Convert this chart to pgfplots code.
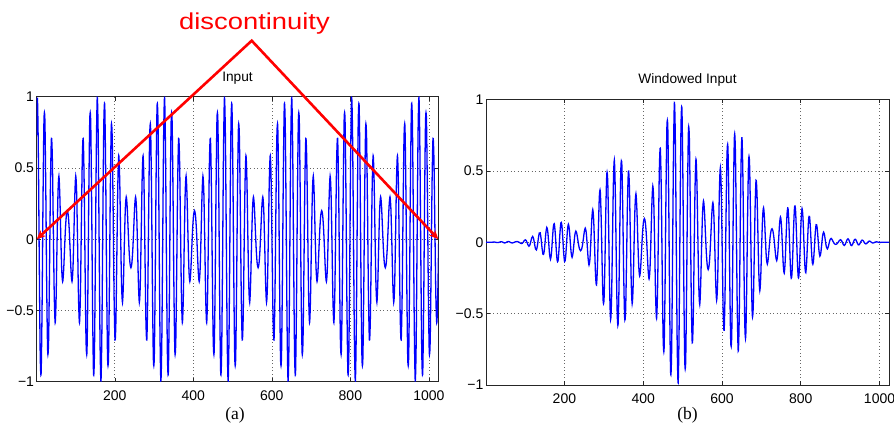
\documentclass[border=0pt]{standalone}
\usepackage{fontspec}
\setmainfont{Liberation Sans}
\newfontfamily\capfont{Liberation Serif}
\usepackage{graphicx}
\usepackage{pgfplots}
\pgfplotsset{compat=1.18}
\usetikzlibrary{arrows.meta}

\pgfplotsset{matlab/.style={
  scale only axis, anchor=south west,
  xmin=1, xmax=1024, ymin=-1, ymax=1,
  xtick={200,400,600,800,1000}, xticklabels={200,400,600,800,1000},
  ytick={-1,-0.5,0,0.5,1}, yticklabels={−1,−0.5,0,0.5,1},
  tick align=inside, major tick length=4pt,
  grid=major,
  major grid style={black!60, line width=0.7pt, dash pattern=on 0.7pt off 2.8pt},
  axis line style={black!85, line width=0.9pt},
  tick style={black!85, line width=0.6pt},
  tick label style={font=\fontsize{14}{16}\selectfont, inner sep=0pt},
  xticklabel style={yshift=-9pt},
  yticklabel style={xshift=-2.5pt},
  title style={font=\fontsize{13.7}{16}\selectfont, at={(0.5,1)}, anchor=base, yshift=9.5pt, inner sep=0pt},
}}

\begin{document}
\begin{tikzpicture}[x=1pt,y=1pt]
\useasboundingbox (0,0) rectangle (894,425);

% (a) input: two tones, 0.6 and 0.4, beating every 162 samples
\begin{axis}[matlab, at={(36.7pt,43.3pt)}, width=401.6pt, height=285pt, title={Input}]
\addplot[blue, line width=1.3pt, smooth] coordinates {
(0.38,0.732) (2.76,0.993) (5.15,0.619) (7.53,-0.145) (9.91,-0.804) (12.29,-0.940) (14.68,-0.480) (17.06,0.270) (19.44,0.824) (21.82,0.841) (24.21,0.333) (26.59,-0.358) (28.97,-0.790) (31.35,-0.710) (33.74,-0.198) (36.12,0.398) (38.50,0.707) (40.88,0.563) (43.26,0.094) (45.65,-0.385) (48.03,-0.586) (50.41,-0.422) (52.79,-0.035) (55.18,0.319) (57.56,0.443) (59.94,0.304) (62.32,0.028) (64.71,-0.211) (67.09,-0.297) (69.47,-0.227) (71.85,-0.075) (74.24,0.074) (76.62,0.169)
(79.00,0.200) (81.38,0.169) (83.76,0.074) (86.15,-0.075) (88.53,-0.227) (90.91,-0.297) (93.29,-0.211) (95.68,0.028) (98.06,0.304) (100.44,0.443) (102.82,0.319) (105.21,-0.035) (107.59,-0.422) (109.97,-0.586) (112.35,-0.385) (114.74,0.094) (117.12,0.563) (119.50,0.707) (121.88,0.398) (124.26,-0.198) (126.65,-0.710) (129.03,-0.790) (131.41,-0.358) (133.79,0.333) (136.18,0.841) (138.56,0.824) (140.94,0.270) (143.32,-0.480) (145.71,-0.940) (148.09,-0.804) (150.47,-0.145) (152.85,0.619) (155.24,0.993) (157.62,0.732) (160.00,0.000) (162.38,-0.732) (164.76,-0.993) (167.15,-0.619) (169.53,0.145) (171.91,0.804) (174.29,0.940) (176.68,0.480) (179.06,-0.270) (181.44,-0.824) (183.82,-0.841) (186.21,-0.333) (188.59,0.358) (190.97,0.790) (193.35,0.710) (195.74,0.198) (198.12,-0.398) (200.50,-0.707) (202.88,-0.563) (205.26,-0.094) (207.65,0.385) (210.03,0.586) (212.41,0.422) (214.79,0.035) (217.18,-0.319) (219.56,-0.443) (221.94,-0.304) (224.32,-0.028) (226.71,0.211) (229.09,0.297) (231.47,0.227) (233.85,0.075) (236.24,-0.074) (238.62,-0.169)
(241.00,-0.200) (243.38,-0.169) (245.76,-0.074) (248.15,0.075) (250.53,0.227) (252.91,0.297) (255.29,0.211) (257.68,-0.028) (260.06,-0.304) (262.44,-0.443) (264.82,-0.319) (267.21,0.035) (269.59,0.422) (271.97,0.586) (274.35,0.385) (276.74,-0.094) (279.12,-0.563) (281.50,-0.707) (283.88,-0.398) (286.26,0.198) (288.65,0.710) (291.03,0.790) (293.41,0.358) (295.79,-0.333) (298.18,-0.841) (300.56,-0.824) (302.94,-0.270) (305.32,0.480) (307.71,0.940) (310.09,0.804) (312.47,0.145) (314.85,-0.619) (317.24,-0.993) (319.62,-0.732) (322.00,0.000) (324.38,0.732) (326.76,0.993) (329.15,0.619) (331.53,-0.145) (333.91,-0.804) (336.29,-0.940) (338.68,-0.480) (341.06,0.270) (343.44,0.824) (345.82,0.841) (348.21,0.333) (350.59,-0.358) (352.97,-0.790) (355.35,-0.710) (357.74,-0.198) (360.12,0.398) (362.50,0.707) (364.88,0.563) (367.26,0.094) (369.65,-0.385) (372.03,-0.586) (374.41,-0.422) (376.79,-0.035) (379.18,0.319) (381.56,0.443) (383.94,0.304) (386.32,0.028) (388.71,-0.211) (391.09,-0.297) (393.47,-0.227) (395.85,-0.075) (398.24,0.074) (400.62,0.169)
(403.00,0.200) (405.38,0.169) (407.76,0.074) (410.15,-0.075) (412.53,-0.227) (414.91,-0.297) (417.29,-0.211) (419.68,0.028) (422.06,0.304) (424.44,0.443) (426.82,0.319) (429.21,-0.035) (431.59,-0.422) (433.97,-0.586) (436.35,-0.385) (438.74,0.094) (441.12,0.563) (443.50,0.707) (445.88,0.398) (448.26,-0.198) (450.65,-0.710) (453.03,-0.790) (455.41,-0.358) (457.79,0.333) (460.18,0.841) (462.56,0.824) (464.94,0.270) (467.32,-0.480) (469.71,-0.940) (472.09,-0.804) (474.47,-0.145) (476.85,0.619) (479.24,0.993) (481.62,0.732) (484.00,0.000) (486.38,-0.732) (488.76,-0.993) (491.15,-0.619) (493.53,0.145) (495.91,0.804) (498.29,0.940) (500.68,0.480) (503.06,-0.270) (505.44,-0.824) (507.82,-0.841) (510.21,-0.333) (512.59,0.358) (514.97,0.790) (517.35,0.710) (519.74,0.198) (522.12,-0.398) (524.50,-0.707) (526.88,-0.563) (529.26,-0.094) (531.65,0.385) (534.03,0.586) (536.41,0.422) (538.79,0.035) (541.18,-0.319) (543.56,-0.443) (545.94,-0.304) (548.32,-0.028) (550.71,0.211) (553.09,0.297) (555.47,0.227) (557.85,0.075) (560.24,-0.074) (562.62,-0.169)
(565.00,-0.200) (567.38,-0.169) (569.76,-0.074) (572.15,0.075) (574.53,0.227) (576.91,0.297) (579.29,0.211) (581.68,-0.028) (584.06,-0.304) (586.44,-0.443) (588.82,-0.319) (591.21,0.035) (593.59,0.422) (595.97,0.586) (598.35,0.385) (600.74,-0.094) (603.12,-0.563) (605.50,-0.707) (607.88,-0.398) (610.26,0.198) (612.65,0.710) (615.03,0.790) (617.41,0.358) (619.79,-0.333) (622.18,-0.841) (624.56,-0.824) (626.94,-0.270) (629.32,0.480) (631.71,0.940) (634.09,0.804) (636.47,0.145) (638.85,-0.619) (641.24,-0.993) (643.62,-0.732) (646.00,0.000) (648.38,0.732) (650.76,0.993) (653.15,0.619) (655.53,-0.145) (657.91,-0.804) (660.29,-0.940) (662.68,-0.480) (665.06,0.270) (667.44,0.824) (669.82,0.841) (672.21,0.333) (674.59,-0.358) (676.97,-0.790) (679.35,-0.710) (681.74,-0.198) (684.12,0.398) (686.50,0.707) (688.88,0.563) (691.26,0.094) (693.65,-0.385) (696.03,-0.586) (698.41,-0.422) (700.79,-0.035) (703.18,0.319) (705.56,0.443) (707.94,0.304) (710.32,0.028) (712.71,-0.211) (715.09,-0.297) (717.47,-0.227) (719.85,-0.075) (722.24,0.074) (724.62,0.169)
(727.00,0.200) (729.38,0.169) (731.76,0.074) (734.15,-0.075) (736.53,-0.227) (738.91,-0.297) (741.29,-0.211) (743.68,0.028) (746.06,0.304) (748.44,0.443) (750.82,0.319) (753.21,-0.035) (755.59,-0.422) (757.97,-0.586) (760.35,-0.385) (762.74,0.094) (765.12,0.563) (767.50,0.707) (769.88,0.398) (772.26,-0.198) (774.65,-0.710) (777.03,-0.790) (779.41,-0.358) (781.79,0.333) (784.18,0.841) (786.56,0.824) (788.94,0.270) (791.32,-0.480) (793.71,-0.940) (796.09,-0.804) (798.47,-0.145) (800.85,0.619) (803.24,0.993) (805.62,0.732) (808.00,0.000) (810.38,-0.732) (812.76,-0.993) (815.15,-0.619) (817.53,0.145) (819.91,0.804) (822.29,0.940) (824.68,0.480) (827.06,-0.270) (829.44,-0.824) (831.82,-0.841) (834.21,-0.333) (836.59,0.358) (838.97,0.790) (841.35,0.710) (843.74,0.198) (846.12,-0.398) (848.50,-0.707) (850.88,-0.563) (853.26,-0.094) (855.65,0.385) (858.03,0.586) (860.41,0.422) (862.79,0.035) (865.18,-0.319) (867.56,-0.443) (869.94,-0.304) (872.32,-0.028) (874.71,0.211) (877.09,0.297) (879.47,0.227) (881.85,0.075) (884.24,-0.074) (886.62,-0.169)
(889.00,-0.200) (891.38,-0.169) (893.76,-0.074) (896.15,0.075) (898.53,0.227) (900.91,0.297) (903.29,0.211) (905.68,-0.028) (908.06,-0.304) (910.44,-0.443) (912.82,-0.319) (915.21,0.035) (917.59,0.422) (919.97,0.586) (922.35,0.385) (924.74,-0.094) (927.12,-0.563) (929.50,-0.707) (931.88,-0.398) (934.26,0.198) (936.65,0.710) (939.03,0.790) (941.41,0.358) (943.79,-0.333) (946.18,-0.841) (948.56,-0.824) (950.94,-0.270) (953.32,0.480) (955.71,0.940) (958.09,0.804) (960.47,0.145) (962.85,-0.619) (965.24,-0.993) (967.62,-0.732) (970.00,0.000) (972.38,0.732) (974.76,0.993) (977.15,0.619) (979.53,-0.145) (981.91,-0.804) (984.29,-0.940) (986.68,-0.480) (989.06,0.270) (991.44,0.824) (993.82,0.841) (996.21,0.333) (998.59,-0.358) (1000.97,-0.790) (1003.35,-0.710) (1005.74,-0.198) (1008.12,0.398) (1010.50,0.707) (1012.88,0.563) (1015.26,0.094) (1017.65,-0.385) (1020.03,-0.586) (1022.41,-0.422) (1024.79,-0.035)
};
\coordinate (L) at (axis cs:1,0);
\coordinate (R) at (axis cs:1024,0);
\end{axis}

% (b) the same input times a Blackman window
\begin{axis}[matlab, at={(486pt,40pt)}, width=403pt, height=285.5pt, title={Windowed Input}]
\addplot[blue, line width=1.3pt, smooth] coordinates {
(0.38,0) (2.76,0) (5.15,0) (7.53,0) (9.91,-0.0003) (12.29,-0.0005) (14.68,-0.0004) (17.06,0.0003) (19.44,0.0011) (21.82,0.0013) (24.21,0.0007) (26.59,-0.0009) (28.97,-0.0023) (31.35,-0.0024) (33.74,-0.0008) (36.12,0.0018) (38.50,0.0037) (40.88,0.0033) (43.26,0.0006) (45.65,-0.0028) (48.03,-0.0047) (50.41,-0.0038) (52.79,-0.0003) (55.18,0.0034) (57.56,0.0052) (59.94,0.0039) (62.32,0.0004) (64.71,-0.0032) (67.09,-0.0048) (69.47,-0.0040) (71.85,-0.0014) (74.24,0.0015) (76.62,0.0036)
(79.00,0.0046) (81.38,0.0041) (83.76,0.0019) (86.15,-0.0021) (88.53,-0.0067) (90.91,-0.0092) (93.29,-0.0070) (95.68,0.0010) (98.06,0.0112) (100.44,0.0171) (102.82,0.0130) (105.21,-0.0015) (107.59,-0.0190) (109.97,-0.0277) (112.35,-0.0191) (114.74,0.0049) (117.12,0.0310) (119.50,0.0407) (121.88,0.0238) (124.26,-0.0124) (126.65,-0.0463) (129.03,-0.0536) (131.41,-0.0253) (133.79,0.0246) (136.18,0.0648) (138.56,0.0659) (140.94,0.0225) (143.32,-0.0416) (145.71,-0.0846) (148.09,-0.0751) (150.47,-0.0140) (152.85,0.0623) (155.24,0.1037) (157.62,0.0792) (160.00,0) (162.38,-0.0849) (164.76,-0.1193) (167.15,-0.0769) (169.53,0.0186) (171.91,0.1067) (174.29,0.1290) (176.68,0.0680) (179.06,-0.0394) (181.44,-0.1243) (183.82,-0.1309) (186.21,-0.0534) (188.59,0.0592) (190.97,0.1345) (193.35,0.1247) (195.74,0.0358) (198.12,-0.0740) (200.50,-0.1353) (202.88,-0.1109) (205.26,-0.0191) (207.65,0.0802) (210.03,0.1255) (212.41,0.0927) (214.79,0.0079) (217.18,-0.0739) (219.56,-0.1053) (221.94,-0.0741) (224.32,-0.0070) (226.71,0.0541) (229.09,0.0780) (231.47,0.0611) (233.85,0.0207) (236.24,-0.0209) (238.62,-0.0489)
(241.00,-0.0592) (243.38,-0.0512) (245.76,-0.0230) (248.15,0.0238) (250.53,0.0736) (252.91,0.0984) (255.29,0.0714) (257.68,-0.0097) (260.06,-0.1074) (262.44,-0.1599) (264.82,-0.1176) (267.21,0.0132) (269.59,0.1619) (271.97,0.2294) (274.35,0.1537) (276.74,-0.0383) (279.12,-0.2336) (281.50,-0.2989) (283.88,-0.1714) (286.26,0.0868) (288.65,0.3170) (291.03,0.3591) (293.41,0.1656) (295.79,-0.1569) (298.18,-0.4034) (300.56,-0.4019) (302.94,-0.1339) (305.32,0.2422) (307.71,0.4821) (310.09,0.4191) (312.47,0.0768) (314.85,-0.3331) (317.24,-0.5427) (319.62,-0.4061) (322.00,0) (324.38,0.4182) (326.76,0.5756) (329.15,0.3640) (331.53,-0.0865) (333.91,-0.4862) (336.29,-0.5762) (338.68,-0.2983) (341.06,0.1700) (343.44,0.5257) (345.82,0.5436) (348.21,0.2180) (350.59,-0.2374) (352.97,-0.5304) (355.35,-0.4826) (357.74,-0.1362) (360.12,0.2771) (362.50,0.4979) (364.88,0.4010) (367.26,0.0677) (369.65,-0.2803) (372.03,-0.4311) (374.41,-0.3137) (376.79,-0.0263) (379.18,0.2422) (381.56,0.3397) (383.94,0.2354) (386.32,0.0219) (388.71,-0.1665) (391.09,-0.2364) (393.47,-0.1824) (395.85,-0.0608) (398.24,0.0605) (400.62,0.1394)
(403.00,0.1663) (405.38,0.1417) (407.76,0.0625) (410.15,-0.0639) (412.53,-0.1947) (414.91,-0.2567) (417.29,-0.1837) (419.68,0.0246) (422.06,0.2684) (424.44,0.3937) (426.82,0.2853) (429.21,-0.0315) (431.59,-0.3821) (433.97,-0.5337) (436.35,-0.3527) (438.74,0.0866) (441.12,0.5214) (443.50,0.6580) (445.88,0.3722) (448.26,-0.1861) (450.65,-0.6703) (453.03,-0.7490) (455.41,-0.3408) (457.79,0.3183) (460.18,0.8074) (462.56,0.7940) (464.94,0.2611) (467.32,-0.4657) (469.71,-0.9152) (472.09,-0.7849) (474.47,-0.1420) (476.85,0.6076) (479.24,0.9773) (481.62,0.7218) (484.00,0) (486.38,-0.7246) (488.76,-0.9849) (491.15,-0.6150) (493.53,0.1442) (495.91,0.8007) (498.29,0.9373) (500.68,0.4791) (503.06,-0.2696) (505.44,-0.8234) (507.82,-0.8408) (510.21,-0.3330) (512.59,0.3580) (514.97,0.7898) (517.35,0.7095) (519.74,0.1978) (522.12,-0.3972) (524.50,-0.7050) (526.88,-0.5607) (529.26,-0.0935) (531.65,0.3825) (534.03,0.5813) (536.41,0.4178) (538.79,0.0346) (541.18,-0.3146) (543.56,-0.4360) (545.94,-0.2985) (548.32,-0.0274) (550.71,0.2060) (553.09,0.2892) (555.47,0.2203) (557.85,0.0725) (560.24,-0.0713) (562.62,-0.1623)
(565.00,-0.1913) (567.38,-0.1610) (569.76,-0.0702) (572.15,0.0708) (574.53,0.2134) (576.91,0.2779) (579.29,0.1965) (581.68,-0.0259) (584.06,-0.2802) (586.44,-0.4060) (588.82,-0.2907) (591.21,0.0317) (593.59,0.3801) (595.97,0.5244) (598.35,0.3423) (600.74,-0.0830) (603.12,-0.4940) (605.50,-0.6159) (607.88,-0.3442) (610.26,0.1700) (612.65,0.6049) (615.03,0.6678) (617.41,0.3003) (619.79,-0.2771) (622.18,-0.6942) (624.56,-0.6744) (626.94,-0.2191) (629.32,0.3860) (631.71,0.7492) (634.09,0.6348) (636.47,0.1134) (638.85,-0.4797) (641.24,-0.7621) (643.62,-0.5563) (646.00,0) (648.38,0.5448) (650.76,0.7316) (653.15,0.4513) (655.53,-0.1045) (657.91,-0.5733) (660.29,-0.6627) (662.68,-0.3346) (665.06,0.1860) (667.44,0.5607) (669.82,0.5653) (672.21,0.2211) (674.59,-0.2347) (676.97,-0.5113) (679.35,-0.4535) (681.74,-0.1248) (684.12,0.2476) (686.50,0.4339) (688.88,0.3408) (691.26,0.0561) (693.65,-0.2266) (696.03,-0.3401) (698.41,-0.2414) (700.79,-0.0197) (703.18,0.1771) (705.56,0.2423) (707.94,0.1637) (710.32,0.0148) (712.71,-0.1101) (715.09,-0.1525) (717.47,-0.1146) (719.85,-0.0373) (722.24,0.0361) (724.62,0.0812)
(727.00,0.0944) (729.38,0.0784) (731.76,0.0337) (734.15,-0.0336) (736.53,-0.0997) (738.91,-0.1281) (741.29,-0.0893) (743.68,0.0116) (746.06,0.1240) (748.44,0.1772) (750.82,0.1251) (753.21,-0.0135) (755.59,-0.1590) (757.97,-0.2163) (760.35,-0.1392) (762.74,0.0333) (765.12,0.1952) (767.50,0.2399) (769.88,0.1321) (772.26,-0.0644) (774.65,-0.2255) (777.03,-0.2454) (779.41,-0.1087) (781.79,0.0988) (784.18,0.2436) (786.56,0.2332) (788.94,0.0746) (791.32,-0.1295) (793.71,-0.2473) (796.09,-0.2065) (798.47,-0.0363) (800.85,0.1513) (803.24,0.2367) (805.62,0.1701) (808.00,0) (810.38,-0.1613) (812.76,-0.2131) (815.15,-0.1292) (817.53,0.0295) (819.91,0.1589) (822.29,0.1803) (824.68,0.0895) (827.06,-0.0489) (829.44,-0.1449) (831.82,-0.1435) (834.21,-0.0551) (836.59,0.0576) (838.97,0.1233) (841.35,0.1074) (843.74,0.0290) (846.12,-0.0566) (848.50,-0.0974) (850.88,-0.0750) (853.26,-0.0121) (855.65,0.0479) (858.03,0.0706) (860.41,0.0491) (862.79,0.0039) (865.18,-0.0346) (867.56,-0.0464) (869.94,-0.0307) (872.32,-0.0027) (874.71,0.0198) (877.09,0.0268) (879.47,0.0197) (881.85,0.0063) (884.24,-0.0059) (886.62,-0.0130)
(889.00,-0.0148) (891.38,-0.0120) (893.76,-0.0050) (896.15,0.0049) (898.53,0.0142) (900.91,0.0178) (903.29,0.0121) (905.68,-0.0015) (908.06,-0.0160) (910.44,-0.0222) (912.82,-0.0152) (915.21,0.0016) (917.59,0.0182) (919.97,0.0240) (922.35,0.0149) (924.74,-0.0035) (927.12,-0.0197) (929.50,-0.0234) (931.88,-0.0124) (934.26,0.0059) (936.65,0.0197) (939.03,0.0206) (941.41,0.0088) (943.79,-0.0077) (946.18,-0.0182) (948.56,-0.0167) (950.94,-0.0051) (953.32,0.0084) (955.71,0.0154) (958.09,0.0122) (960.47,0.0020) (962.85,-0.0080) (965.24,-0.0118) (967.62,-0.0080) (970.00,0) (972.38,0.0066) (974.76,0.0081) (977.15,0.0046) (979.53,-0.0010) (981.91,-0.0047) (984.29,-0.0049) (986.68,-0.0022) (989.06,0.0011) (991.44,0.0029) (993.82,0.0024) (996.21,0.0008) (998.59,-0.0008) (1000.97,-0.0013) (1003.35,-0.0009) (1005.74,-0.0002) (1008.12,0.0003) (1010.50,0.0004) (1012.88,0.0002) (1015.26,0) (1017.65,-0.0001) (1020.03,-0.0001) (1022.41,0) (1024.79,0)
};
\end{axis}

\node[font=\capfont\fontsize{17.5}{20}\selectfont, anchor=base, inner sep=0pt] at (235,5) {(a)};
\node[font=\capfont\fontsize{17.5}{20}\selectfont, anchor=base, inner sep=0pt] at (687.5,5) {(b)};

% annotation
\draw[red, line width=2.6pt, line join=miter, {Stealth[length=9pt,width=8pt]}-{Stealth[length=9pt,width=8pt]}]
  (L) -- (251.7,384.3) -- (R);
\node[text=red, anchor=base, inner sep=0pt] at (254.5,395.5)
  {\scalebox{1.19}[1]{\fontsize{23}{26}\selectfont discontinuity}};
\end{tikzpicture}
\end{document}
